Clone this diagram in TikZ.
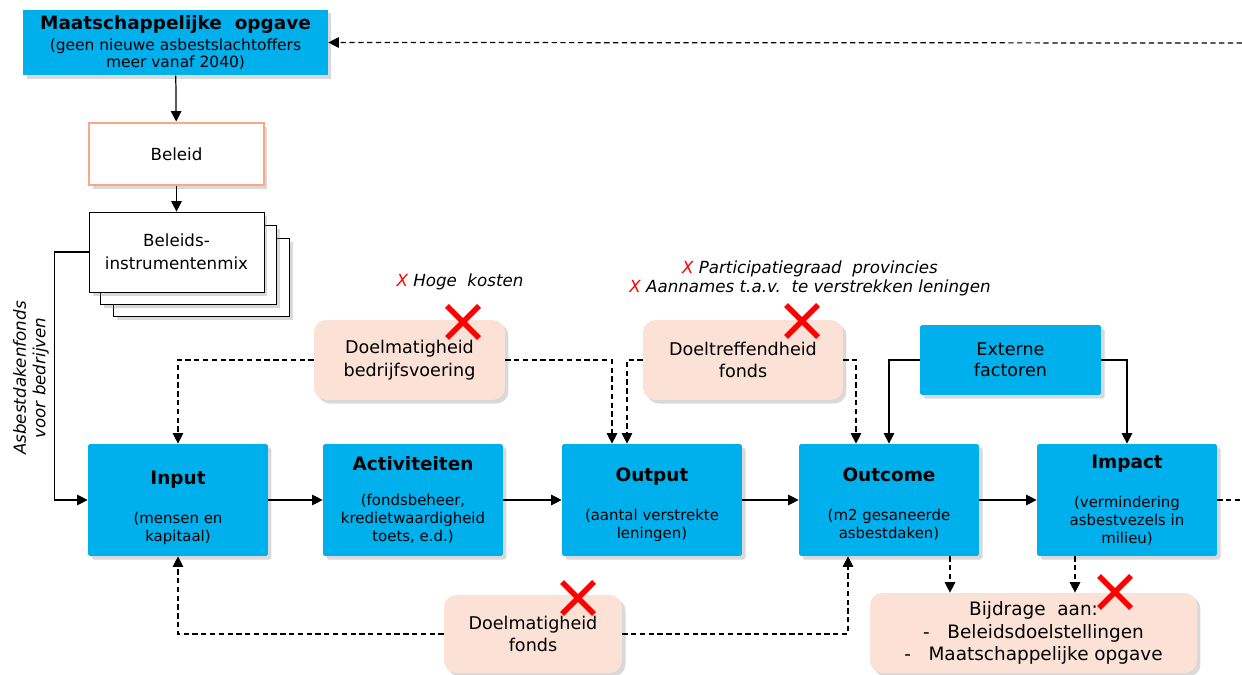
\documentclass[tikz,border=0pt]{standalone}
\usepackage{fontspec}
\setmainfont{DejaVu Sans}
\usetikzlibrary{arrows.meta,shadows}

\definecolor{blauw}{RGB}{0,176,236}
\definecolor{zalm}{RGB}{252,226,214}
\definecolor{oranje}{RGB}{248,168,130}

\tikzset{
  schaduw/.style={drop shadow={opacity=.3,shadow xshift=2pt,shadow yshift=-2pt}},
  blok/.style={fill=blauw, rounded corners=1pt, minimum width=3.6cm, minimum height=2.24cm,
    align=center, font=\fontsize{8.5}{10.2}\selectfont, schaduw},
  toets/.style={fill=zalm, rounded corners=7pt, minimum height=1.6cm, align=center,
    font=\fontsize{10}{13}\selectfont, schaduw},
  pijl/.style={-{Triangle[length=6pt,width=6pt]}, line width=.7pt},
  stippel/.style={pijl, dash pattern=on 3pt off 2pt},
  kruis/.pic={\draw[red, line width=3.2pt] (-16,-16) -- (16,16) (-16,16) -- (16,-16);}
}
\newcommand{\titel}[1]{{\fontsize{10.5}{12}\selectfont\bfseries #1}}

\begin{document}
\begin{tikzpicture}[x=0.02cm, y=-0.02cm, font=\fontsize{9.5}{13}\selectfont]
\useasboundingbox (0,0) rectangle (1242,675);

% beleid en instrumenten
\node[fill=blauw, minimum width=6.1cm, minimum height=1.3cm, align=center,
  font=\fontsize{8.8}{9.8}\selectfont, schaduw] (opgave) at (175.5,42.5)
  {\titel{Maatschappelijke\ \ opgave}\\[2pt](geen nieuwe asbestslachtoffers\\meer vanaf 2040)};
\node[draw=oranje, line width=1.6pt, fill=white, minimum width=3.5cm, minimum height=1.24cm, schaduw] (beleid) at (176.5,154) {Beleid};
\draw[fill=white, schaduw] (113,238) rectangle (289,316);
\draw[fill=white, schaduw] (100,225) rectangle (276,304);
\node[draw, fill=white, minimum width=3.5cm, minimum height=1.6cm, align=center, schaduw] (mix) at (176.5,252) {Beleids-\\instrumentenmix};
\node[rotate=90, align=center, font=\fontsize{9.5}{11}\selectfont\itshape] (fondslabel) at (31,378) {Asbestdakenfonds\\voor bedrijven};

% keten
\node[blok] (input) at (178,500) {\rule{0pt}{17pt}\titel{Input}\\[12pt](mensen en\\kapitaal)};
\node[blok] (activiteiten) at (413,500) {\titel{Activiteiten}\\[10pt](fondsbeheer,\\kredietwaardigheid\\toets, e.d.)};
\node[blok] (output) at (652,500) {\rule{0pt}{13pt}\titel{Output}\\[12pt](aantal verstrekte\\leningen)};
\node[blok] (outcome) at (889,500) {\rule{0pt}{13pt}\titel{Outcome}\\[12pt](m2 gesaneerde\\asbestdaken)};
\node[blok] (impact) at (1127,500) {\titel{Impact}\\[12pt](vermindering\\asbestvezels in\\milieu)};
\node[blok, minimum width=3.62cm, minimum height=1.4cm, font=\fontsize{10}{12}\selectfont] (extern) at (1010.5,360) {Externe\\factoren};

% toetsing
\node[toets, minimum width=3.82cm] (dbv) at (409.5,360) {Doelmatigheid\\bedrijfsvoering};
\node[toets, minimum width=4cm] (dtf) at (743,360) {Doeltreffendheid\\fonds};
\node[toets, minimum width=3.56cm, minimum height=1.56cm] (dfo) at (533,634) {Doelmatigheid\\fonds};
\node[toets, minimum width=6.54cm, font=\fontsize{10.5}{12.8}\selectfont] (bijdrage) at (1033.5,633) {Bijdrage\ \ aan:\\-\ \ \ Beleidsdoelstellingen\\-\ \ \ Maatschappelijke opgave};

\node[font=\fontsize{9.5}{11}\selectfont\itshape] (kosten) at (460,282) {\textcolor{red}{X} Hoge\ \ kosten};
\node[align=center, font=\fontsize{9.5}{10.8}\selectfont\itshape] (aannames) at (810,278)
  {\textcolor{red}{X} Participatiegraad\ \ provincies\\\textcolor{red}{X} Aannames t.a.v.\ \ te verstrekken leningen};

% verbindingen
\coordinate (opgavein) at (1242,43);
\coordinate (impactuit) at (1242,500);
\draw[pijl] (opgave) -- (beleid);
\draw[pijl] (beleid) -- (mix);
\draw[pijl] (mix.west) -- ++(-34,0) |- (input.west);
\draw[pijl] (input) -- (activiteiten);
\draw[pijl] (activiteiten) -- (output);
\draw[pijl] (output) -- (outcome);
\draw[pijl] (outcome) -- (impact);
\draw[pijl] (extern.west) -| (outcome.north);
\draw[pijl] (extern.east) -| (impact.north);
\draw[stippel] (opgavein) -- (opgave.east);
\draw[stippel, -] (impact.east) -- (impactuit);
\draw[stippel] (dbv.west) -| (input.north);
\draw[stippel] (dbv.east) -| ([xshift=-0.8cm]output.north);
\draw[stippel] (dtf.west) -| ([xshift=-0.5cm]output.north);
\draw[stippel] (dtf.east) -| ([xshift=-0.66cm]outcome.north);
\draw[stippel] (dfo.west) -| (input.south);
\draw[stippel] (dfo.east) -| ([xshift=-0.82cm]outcome.south);
\coordinate (bijdr1) at ([xshift=1.22cm]outcome.south);
\coordinate (bijdr2) at ([xshift=-1.04cm]impact.south);
\draw[stippel] (bijdr1) -- (bijdr1 |- bijdrage.north);
\draw[stippel] (bijdr2) -- (bijdr2 |- bijdrage.north);

% kruisen
\pic at (463,322) {kruis};
\pic at (802,321) {kruis};
\pic at (578,598) {kruis};
\pic at (1115,592) {kruis};
\end{tikzpicture}
\end{document}
